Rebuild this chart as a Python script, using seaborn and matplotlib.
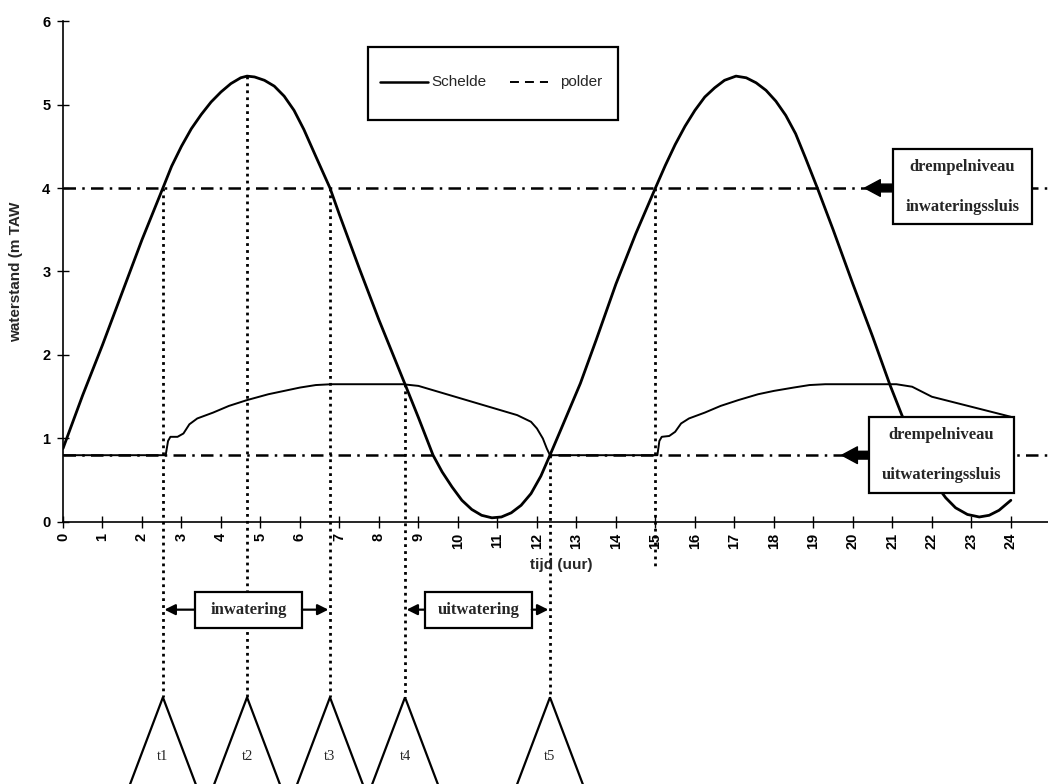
import matplotlib
matplotlib.use("Agg")
import numpy as np
import pandas as pd
import seaborn as sns
import matplotlib.pyplot as plt
from matplotlib.patches import Rectangle, Polygon
from matplotlib.lines import Line2D

# ---------------- data ----------------
schelde_t = [0, 0.5, 1.0, 1.5, 2.0, 2.53, 2.75, 3.0, 3.25, 3.5, 3.75, 4.0, 4.25, 4.5, 4.66,
             4.85, 5.1, 5.35, 5.6, 5.85, 6.1, 6.4, 6.76, 7.0, 7.5, 8.0, 8.66, 9.0, 9.37,
             9.6, 9.85, 10.1, 10.35, 10.6, 10.86, 11.1, 11.35, 11.6, 11.85, 12.1, 12.33,
             12.6, 13.1, 13.5, 14.0, 14.5, 15.0, 15.25, 15.5, 15.75, 16.0, 16.25, 16.5,
             16.75, 17.04, 17.3, 17.55, 17.8, 18.05, 18.3, 18.55, 18.8, 19.1, 19.5, 20.0,
             20.5, 20.94, 21.24, 21.6, 21.85, 22.1, 22.35, 22.6, 22.9, 23.2, 23.45, 23.7,
             24.0]
schelde_h = [0.88, 1.52, 2.12, 2.75, 3.38, 4.0, 4.26, 4.5, 4.71, 4.88, 5.03, 5.15, 5.25,
             5.32, 5.34, 5.33, 5.29, 5.22, 5.1, 4.93, 4.7, 4.38, 4.0, 3.68, 3.04, 2.42,
             1.65, 1.25, 0.8, 0.6, 0.42, 0.26, 0.15, 0.08, 0.05, 0.06, 0.11, 0.2, 0.34,
             0.55, 0.8, 1.1, 1.66, 2.18, 2.85, 3.45, 4.0, 4.27, 4.52, 4.74, 4.93, 5.09,
             5.2, 5.29, 5.34, 5.32, 5.26, 5.17, 5.04, 4.87, 4.65, 4.36, 4.0, 3.5, 2.85,
             2.22, 1.64, 1.28, 0.88, 0.65, 0.45, 0.29, 0.17, 0.09, 0.06, 0.08, 0.14, 0.26]

polder_t = [0, 2.6, 2.66, 2.72, 2.9, 3.05, 3.2, 3.4, 3.8, 4.2, 4.66, 5.2, 5.6, 6.0, 6.4,
            6.8, 8.6, 9.0, 9.5, 10.0, 10.5, 11.0, 11.5, 11.85, 12.0, 12.15, 12.25, 12.33,
            15.05, 15.1, 15.16, 15.35, 15.5, 15.65, 15.85, 16.25, 16.65, 17.1, 17.6,
            18.0, 18.5, 18.9, 19.3, 21.1, 21.5, 22.0, 22.5, 23.0, 23.5, 24.0]
polder_h = [0.8, 0.8, 0.97, 1.02, 1.02, 1.06, 1.17, 1.24, 1.31, 1.39, 1.46, 1.53, 1.57,
            1.61, 1.64, 1.65, 1.65, 1.63, 1.56, 1.49, 1.42, 1.35, 1.28, 1.2, 1.12, 1.0,
            0.88, 0.8, 0.8, 0.97, 1.02, 1.03, 1.08, 1.18, 1.24, 1.31, 1.39, 1.46, 1.53,
            1.57, 1.61, 1.64, 1.65, 1.65, 1.62, 1.5, 1.44, 1.38, 1.32, 1.26]

levels = [4.0, 0.8]
level_labels = [("drempelniveau", "inwateringssluis"), ("drempelniveau", "uitwateringssluis")]

event_names = ["t1", "t2", "t3", "t4", "t5"]
event_t = [2.53, 4.66, 6.76, 8.66, 12.33]
event_top = [4.0, 5.34, 4.0, 1.65, 0.8]
extra_t, extra_top = 15.0, 4.0

x_ticks = list(range(0, 25))
y_ticks = list(range(0, 7))

# ---------------- style ----------------
sns.set_style("ticks")
plt.rcParams['font.family'] = ['Liberation Sans', 'DejaVu Sans']
SERIF = ['Liberation Serif', 'DejaVu Serif']

fig = plt.figure(figsize=(10.48, 7.84), dpi=100)
ax = fig.add_axes([0.0601, 0.3342, 0.9399, 0.639])
XMAX = 24.94

df_s = pd.DataFrame({"tijd": schelde_t, "waterstand": schelde_h})
df_p = pd.DataFrame({"tijd": polder_t, "waterstand": polder_h})
sns.lineplot(data=df_s, x="tijd", y="waterstand", ax=ax, color="black", lw=2.0,
             estimator=None, sort=False, zorder=3)
sns.lineplot(data=df_p, x="tijd", y="waterstand", ax=ax, color="black", lw=1.4,
             estimator=None, sort=False, zorder=3)

ax.set_xlim(0, XMAX)
ax.set_ylim(0, 6)
ax.set_xticks(x_ticks)
ax.set_xticklabels([str(v) for v in x_ticks], rotation=90, fontsize=10.5, fontweight="bold")
ax.set_yticks(y_ticks)
ax.set_yticklabels([str(v) for v in y_ticks], fontsize=10.5, fontweight="bold")
ax.tick_params(axis="both", direction="inout", length=8, width=1, colors="black")
ax.tick_params(axis="x", pad=4)
ax.tick_params(axis="y", pad=5)
for s in ["top", "right"]:
    ax.spines[s].set_visible(False)
for s in ["left", "bottom"]:
    ax.spines[s].set_linewidth(1.2)
    ax.spines[s].set_color("black")
ax.set_xlabel("")
ax.set_ylabel("")
ax.set_facecolor("white")

fig.text(16 / 1048, 1 - 272 / 784, "waterstand (m TAW", rotation=90, ha="center",
         va="center", fontsize=11, fontweight="bold")
fig.text(561 / 1048, 1 - 565 / 784, "tijd (uur)", ha="center", va="center",
         fontsize=11, fontweight="bold")

# threshold lines
for lvl in levels:
    ax.plot([0, XMAX], [lvl, lvl], color="black", lw=1.8, ls=(0, (5, 2.5, 1, 2.5)),
            zorder=2, clip_on=False)

# vertical dotted lines + triangles
DOT = (0, (1, 1.5))
for name, t, top in zip(event_names, event_t, event_top):
    ax.plot([t, t], [top, -2.1], color="black", lw=2.0, ls=DOT,
            zorder=2, clip_on=False)
    tri = Polygon([(t - 0.975, -3.32), (t, -2.1), (t + 0.975, -3.32)], closed=True,
                  fill=False, edgecolor="black", lw=1.6, clip_on=False, zorder=4)
    ax.add_patch(tri)
    ax.text(t, -2.81, name, ha="center", va="center", fontsize=10.5, family=SERIF,
            clip_on=False)
ax.plot([extra_t, extra_t], [extra_top, -0.54], color="black", lw=2.0,
        ls=DOT, zorder=2, clip_on=False)


def box(x0, x1, y0, y1):
    r = Rectangle((x0, y0), x1 - x0, y1 - y0, facecolor="white", edgecolor="black",
                  lw=1.6, zorder=5, clip_on=False)
    ax.add_patch(r)


# inwatering / uitwatering boxes with arrows
periods = [("inwatering", event_t[0], event_t[2], 3.34, 6.05),
           ("uitwatering", event_t[3], event_t[4], 9.16, 11.87)]
for label, ta, tb, bx0, bx1 in periods:
    box(bx0, bx1, -1.27, -0.84)
    ax.text((bx0 + bx1) / 2, -1.05, label, ha="center", va="center", fontsize=12,
            family=SERIF, fontweight="bold", zorder=6, clip_on=False)
    for xs, xe in [(bx0, ta + 0.04), (bx1, tb - 0.04)]:
        ax.annotate("", xy=(xe, -1.05), xytext=(xs, -1.05),
                    arrowprops=dict(arrowstyle="-|>", lw=1.6, color="black",
                                    mutation_scale=16, shrinkA=0, shrinkB=0),
                    zorder=6, annotation_clip=False)

# threshold label boxes
lvl_boxes = [(21.01, 24.53, 3.57, 4.47, 4.25, 3.77, 20.30),
             (20.41, 24.08, 0.35, 1.26, 1.04, 0.56, 19.72)]
for (l1, l2), lvl, (bx0, bx1, by0, by1, ty1, ty2, tip) in zip(level_labels, levels, lvl_boxes):
    box(bx0, bx1, by0, by1)
    ax.text((bx0 + bx1) / 2, ty1, l1, ha="center", va="center", fontsize=12,
            family=SERIF, fontweight="bold", zorder=6, clip_on=False)
    ax.text((bx0 + bx1) / 2, ty2, l2, ha="center", va="center", fontsize=12,
            family=SERIF, fontweight="bold", zorder=6, clip_on=False)
    ax.annotate("", xy=(tip, lvl), xytext=(bx0, lvl),
                arrowprops=dict(arrowstyle="simple,head_length=0.7,head_width=0.75,tail_width=0.35",
                                color="black", mutation_scale=16, shrinkA=0, shrinkB=0),
                zorder=6, annotation_clip=False)

# legend (drawn as in the original)
box(7.72, 14.05, 4.81, 5.69)
ax.add_line(Line2D([8.03, 9.24], [5.27, 5.27], color="black", lw=1.8, zorder=6))
ax.text(9.33, 5.27, "Schelde", ha="left", va="center", fontsize=11, zorder=6)
ax.add_line(Line2D([11.32, 12.28], [5.27, 5.27], color="black", lw=1.4,
                   ls=(0, (4.6, 3.1)), zorder=6))
ax.text(12.58, 5.27, "polder", ha="left", va="center", fontsize=11, zorder=6)

fig.savefig("out.png", dpi=100, facecolor="white")
